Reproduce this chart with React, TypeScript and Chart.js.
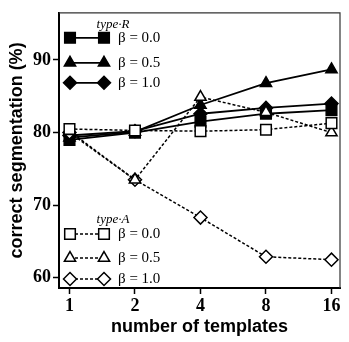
import { useEffect, useRef } from 'react';
import { Chart, registerables } from 'chart.js';
import { drawPoint } from 'chart.js/helpers';

Chart.register(...registerables);

const templates = [1, 2, 4, 8, 16];
const yTickValues = [60, 70, 80, 90];
const typeR_b00 = [79.0, 80.0, 81.5, 82.6, 83.1];
const typeR_b05 = [79.3, 80.1, 83.8, 86.8, 88.7];
const typeR_b10 = [79.6, 80.2, 82.6, 83.4, 84.0];
const typeA_b00 = [80.5, 80.3, 80.2, 80.4, 81.3];
const typeA_b05 = [80.2, 73.5, 84.9, 82.8, 80.0];
const typeA_b10 = [80.0, 73.5, 68.3, 62.9, 62.5];
const betaLabels = ['β = 0.0', 'β = 0.5', 'β = 1.0'];
const groupTitles = ['type·R', 'type·A'];

const shapes = ['rect', 'triangle', 'rectRot'];
const radii = [7.5, 6.5, 6.5];

function toPts(vals: number[]) {
  return templates.map((t, i) => ({ x: Math.log2(t), y: vals[i] }));
}

function makeDs(label: string, vals: number[], idx: number, filled: boolean) {
  return {
    label,
    data: toPts(vals),
    borderColor: '#000',
    borderWidth: filled ? 1.8 : 1.5,
    borderDash: filled ? [] : [3, 2],
    pointStyle: shapes[idx],
    pointRadius: radii[idx],
    pointBackgroundColor: filled ? '#000' : '#fff',
    pointBorderColor: '#000',
    pointBorderWidth: 1.5,
    tension: 0,
    fill: false,
  };
}

const legendPlugin = {
  id: 'customLegend',
  afterDraw(chart: any) {
    const ctx = chart.ctx;
    const { left, top, right, bottom } = chart.chartArea;
    ctx.save();
    // frame
    ctx.strokeStyle = '#333';
    ctx.lineWidth = 1.2;
    ctx.beginPath();
    ctx.moveTo(left, top);
    ctx.lineTo(right, top);
    ctx.lineTo(right, bottom);
    ctx.stroke();

    const groups = [
      { title: groupTitles[0], titleY: top + 12, rows: [top + 25, top + 50, top + 70], filled: true },
      { title: groupTitles[1], titleY: bottom - 68, rows: [bottom - 54, bottom - 30, bottom - 9], filled: false },
    ];
    groups.forEach((g) => {
      ctx.fillStyle = '#000';
      ctx.font = 'italic 13px "Liberation Serif"';
      ctx.textAlign = 'center';
      ctx.textBaseline = 'middle';
      ctx.fillText(g.title, left + 54, g.titleY);
      g.rows.forEach((y, i) => {
        const x1 = left + 11;
        const x2 = left + 45;
        ctx.strokeStyle = '#000';
        ctx.lineWidth = g.filled ? 1.8 : 1.5;
        ctx.setLineDash(g.filled ? [] : [3, 2]);
        ctx.beginPath();
        ctx.moveTo(x1, y);
        ctx.lineTo(x2, y);
        ctx.stroke();
        ctx.setLineDash([]);
        ctx.fillStyle = g.filled ? '#000' : '#fff';
        ctx.lineWidth = 1.5;
        const opts = { pointStyle: shapes[i], radius: radii[i], borderWidth: 1.5, rotation: 0 };
        drawPoint(ctx, opts, x1, y);
        ctx.fillStyle = g.filled ? '#000' : '#fff';
        drawPoint(ctx, opts, x2, y);
        ctx.fillStyle = '#000';
        ctx.font = '15px "Liberation Serif"';
        ctx.textAlign = 'left';
        ctx.fillText(betaLabels[i], left + 59, y);
      });
    });
    ctx.restore();
  },
};

export default function App() {
  const ref = useRef<HTMLCanvasElement | null>(null);
  useEffect(() => {
    document.body.style.margin = '0';
    const canvas = ref.current;
    if (!canvas) return;
    const chart = new Chart(canvas, {
      type: 'line',
      data: {
        datasets: [
          makeDs('A 0.0', typeA_b00, 0, false),
          makeDs('A 0.5', typeA_b05, 1, false),
          makeDs('A 1.0', typeA_b10, 2, false),
          makeDs('R 0.0', typeR_b00, 0, true),
          makeDs('R 0.5', typeR_b05, 1, true),
          makeDs('R 1.0', typeR_b10, 2, true),
        ],
      },
      options: {
        animation: false,
        responsive: false,
        devicePixelRatio: 1,
        layout: { padding: { top: 10, right: 2, left: 0, bottom: 0 } },
        plugins: { legend: { display: false }, tooltip: { enabled: false } },
        scales: {
          x: {
            type: 'linear',
            min: -0.16,
            max: 4.13,
            afterBuildTicks: (s: any) => {
              s.ticks = templates.map((t) => ({ value: Math.log2(t) }));
            },
            afterFit: (s: any) => {
              s.height = 54;
            },
            ticks: {
              color: '#000',
              padding: 2,
              font: { family: '"Liberation Serif"', weight: 'bold', size: 18 },
              callback: (v: any) => String(Math.round(Math.pow(2, Number(v)))),
              maxRotation: 0,
            },
            grid: { drawOnChartArea: false, tickLength: 6, color: '#000', tickWidth: 1.5 },
            border: { color: '#000', width: 2 },
            title: {
              display: true,
              text: 'number of templates',
              color: '#000',
              font: { family: '"Liberation Sans"', weight: 'bold', size: 18 },
              padding: { top: 0, bottom: 4 },
            },
          },
          y: {
            type: 'linear',
            min: 58.6,
            max: 96.5,
            afterBuildTicks: (s: any) => {
              s.ticks = yTickValues.map((v) => ({ value: v }));
            },
            afterFit: (s: any) => {
              s.width = 59;
            },
            ticks: {
              color: '#000',
              padding: 2,
              font: { family: '"Liberation Serif"', weight: 'bold', size: 18 },
            },
            grid: { drawOnChartArea: false, tickLength: 6, color: '#000', tickWidth: 1.5 },
            border: { color: '#000', width: 2 },
            title: {
              display: true,
              text: 'correct segmentation (%)',
              color: '#000',
              font: { family: '"Liberation Sans"', weight: 'bold', size: 18 },
              padding: { top: 6, bottom: 0 },
            },
          },
        },
      },
      plugins: [legendPlugin],
    } as any);
    return () => chart.destroy();
  }, []);
  return (
    <div style={{ width: 349, height: 342, background: '#fff' }}>
      <canvas ref={ref} width={349} height={342} style={{ display: 'block' }} />
    </div>
  );
}
